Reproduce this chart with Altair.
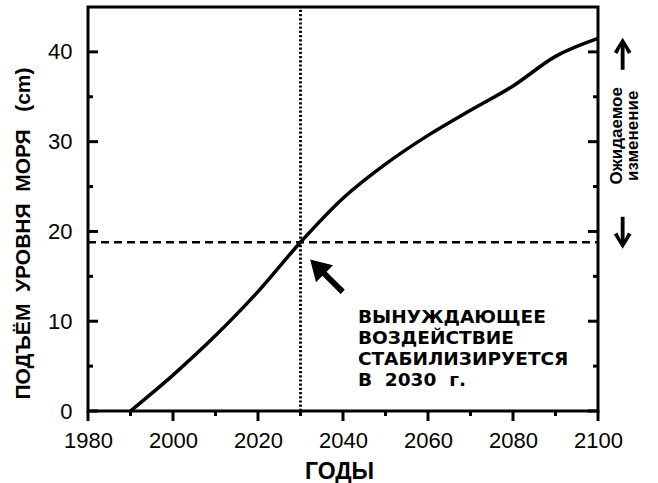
import altair as alt
import pandas as pd

NB = "\u00a0"

# ---- data ----
years = [1990, 2000, 2010, 2020, 2030, 2040, 2050, 2060, 2070, 2080, 2090, 2100]
rise_cm = [0.0, 4.0, 8.4, 13.3, 18.8, 23.7, 27.5, 30.7, 33.5, 36.2, 39.5, 41.5]
x_major = [1980, 2000, 2020, 2040, 2060, 2080, 2100]
x_minor = [1990, 2010, 2030, 2050, 2070, 2090]
y_major = [0, 10, 20, 30, 40]
y_minor = [5, 15, 25, 35]
stab_year = [2030]
stab_level = [18.8]
note_lines = ["ВЫНУЖДАЮЩЕЕ", "ВОЗДЕЙСТВИЕ", "СТАБИЛИЗИРУЕТСЯ", f"В{NB}{NB}2030{NB}{NB}г."]
side_lines = ["Ожидаемое", "изменение"]
y_title = f"ПОДЪЁМ{NB}{NB}УРОВНЯ{NB}{NB}МОРЯ{NB}{NB}{NB}(cm)"
x_title = "ГОДЫ"

# ---- geometry ----
X0, X1 = 1980, 2100
Y0, Y1 = 0, 45
W, H = 510, 404
XPP = (X1 - X0) / W  # years per pixel
YPP = (Y1 - Y0) / H  # cm per pixel
MAJ, MIN = 10, 5

xs = alt.Scale(domain=[X0, X1], nice=False, zero=False)
ys = alt.Scale(domain=[Y0, Y1], nice=False, zero=True)

X = lambda f: alt.X(f, scale=xs)
Y = lambda f: alt.Y(f, scale=ys)

curve_df = pd.DataFrame({"year": years, "rise": rise_cm})

curve = alt.Chart(curve_df).mark_line(
    color="black", strokeWidth=3.5, interpolate="monotone"
).encode(
    x=alt.X("year:Q", scale=xs, axis=alt.Axis(
        values=x_major, format="d", ticks=False, domain=False, grid=False,
        labelFont="Liberation Sans", labelFontSize=22, labelColor="black",
        labelPadding=19, labelFlush=False,
        title=x_title, titleFont="Liberation Sans", titleFontSize=23,
        titleFontWeight="bold", titleColor="black",
        titleX=251, titleY=67, titleBaseline="alphabetic", titleAlign="center",
    )),
    y=alt.Y("rise:Q", scale=ys, axis=alt.Axis(
        values=y_major, format="d", ticks=False, domain=False, grid=False,
        labelFont="Liberation Sans", labelFontSize=22, labelColor="black",
        labelPadding=16, labelFlush=False,
        title=y_title, titleFont="Liberation Sans",
        titleFontSize=21, titleFontWeight="bold", titleColor="black",
        titleAngle=270, titleX=-65, titleY=226, titleAlign="center",
        titleBaseline="middle",
    )),
)

# ---- tick marks (inward on left/right, outward at bottom) ----
rows = []
for side in ("l", "r"):
    for vals, L in ((y_major, MAJ), (y_minor, MIN)):
        for v in vals:
            if side == "l":
                rows.append({"y": v, "x": X0, "x2": X0 + L * XPP})
            else:
                rows.append({"y": v, "x": X1, "x2": X1 - L * XPP})
ytick_df = pd.DataFrame(rows)
ytick_layer = alt.Chart(ytick_df).mark_rule(color="black", strokeWidth=3).encode(
    x=X("x:Q"), x2="x2:Q", y=Y("y:Q"),
)

xtick_df = pd.DataFrame(
    [{"x": v, "y": Y0, "y2": Y0 - MAJ * YPP} for v in x_major]
    + [{"x": v, "y": Y0, "y2": Y0 - MIN * YPP} for v in x_minor]
)
xtick_layer = alt.Chart(xtick_df).mark_rule(color="black", strokeWidth=3).encode(
    x=X("x:Q"), y=Y("y:Q"), y2="y2:Q",
)

# ---- reference lines ----
vline = alt.Chart(pd.DataFrame({"x": stab_year, "y": [Y0], "y2": [Y1]})).mark_rule(
    color="black", strokeWidth=2.8, strokeDash=[2.2, 2.0]
).encode(x=X("x:Q"), y=Y("y:Q"), y2="y2:Q")

hline = alt.Chart(pd.DataFrame({"y": stab_level, "x": [X0], "x2": [X1]})).mark_rule(
    color="black", strokeWidth=2.6, strokeDash=[8, 5]
).encode(y=Y("y:Q"), x=X("x:Q"), x2="x2:Q")

# ---- annotation arrow ----
arrow_path = "M0,-1 L0.52,-0.12 L0.13,-0.12 L0.13,1 L-0.13,1 L-0.13,-0.12 L-0.52,-0.12 Z"
arrow = alt.Chart(pd.DataFrame({"x": [2036.1], "y": [15.07]})).mark_point(
    shape=arrow_path, size=2116, angle=315, filled=True, color="black",
    opacity=1, strokeWidth=0
).encode(x=X("x:Q"), y=Y("y:Q"))

note = alt.Chart(pd.DataFrame({"x": [2043.5], "y": [9.8],
                               "t": ["\n".join(note_lines)]})).mark_text(
    align="left", baseline="alphabetic", font="DejaVu Sans", fontSize=18.5,
    fontWeight="bold", color="black", lineBreak="\n", lineHeight=21
).encode(x=X("x:Q"), y=Y("y:Q"), text="t:N")

# ---- right-hand side label with arrows ----
chev = ("M0,-1 L0.55,-0.1 L0.33,0.02 L0.12,-0.42 L0.12,1 L-0.12,1 "
        "L-0.12,-0.42 L-0.33,0.02 L-0.55,-0.1 Z")
side_arrows = alt.Chart(pd.DataFrame({"x": [2105.8, 2105.8], "y": [39.8, 19.85],
                                      "a": [0, 180]})).mark_point(
    shape=chev, size=1024, filled=True, color="black", opacity=1, strokeWidth=0
).encode(x=X("x:Q"), y=Y("y:Q"), angle=alt.Angle("a:Q", scale=None))

side_text = alt.Chart(pd.DataFrame({"x": [2104.4], "y": [30.66],
                                    "t": ["\n".join(side_lines)]})).mark_text(
    align="center", baseline="middle", angle=270, font="Liberation Sans",
    fontSize=17, fontWeight="bold", color="black", lineBreak="\n", lineHeight=16
).encode(x=X("x:Q"), y=Y("y:Q"), text="t:N")

chart = alt.layer(
    curve, hline, vline, ytick_layer, xtick_layer, arrow, note, side_arrows, side_text
).properties(
    width=W, height=H,
    autosize=alt.AutoSizeParams(type="none"),
    padding={"left": 88, "top": 7, "right": 60, "bottom": 72},
    background="white",
).configure_view(stroke="black", strokeWidth=3)

chart.save("out.html", embed_options={"renderer": "svg", "actions": False})
